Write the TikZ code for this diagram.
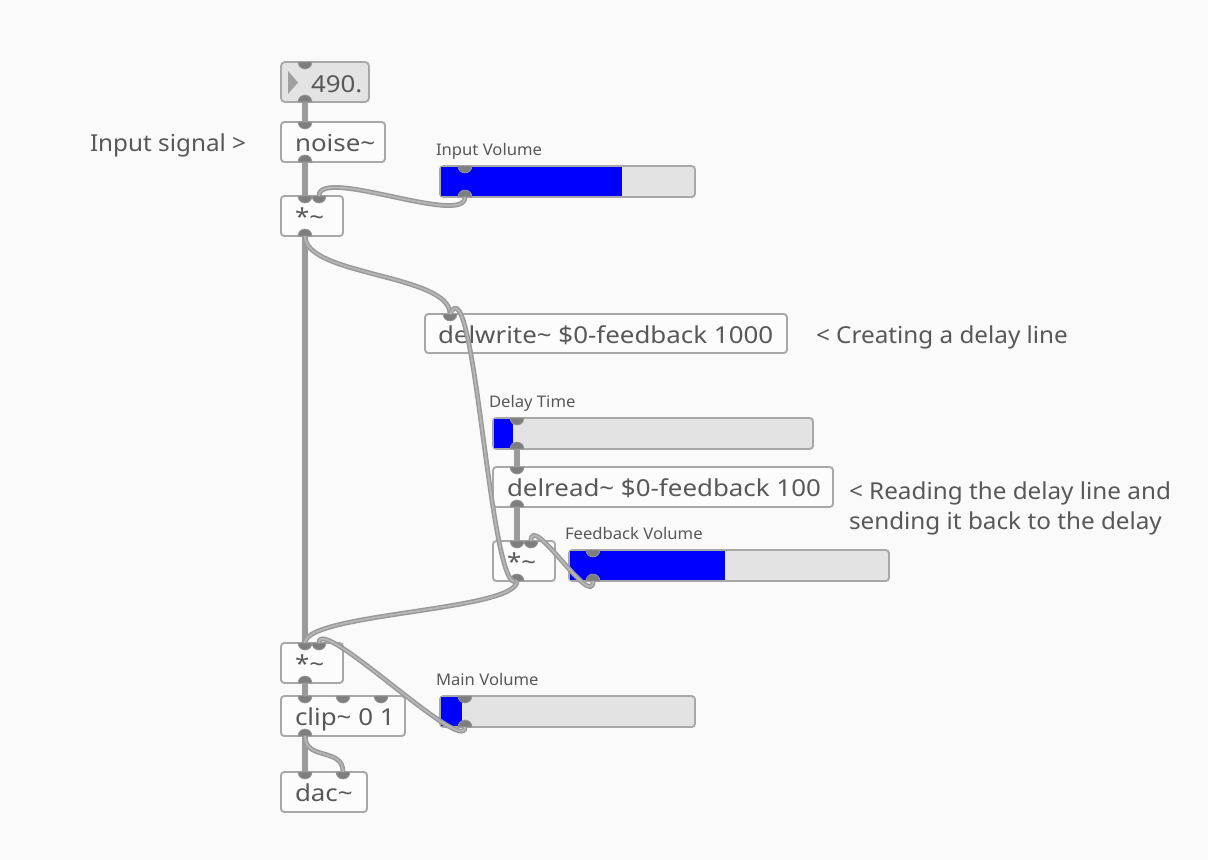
\documentclass[tikz,border=0pt]{standalone}
\usepackage{fontspec}
\setmainfont{Noto Sans}
\newfontfamily\mainf[FakeStretch=1.11]{Noto Sans}
\newfontfamily\cmtf[FakeStretch=1.04]{Noto Sans}
\newfontfamily\lblf[FakeStretch=1.04]{Noto Sans}
\definecolor{bgc}{HTML}{FAFAFA}
\definecolor{boxc}{HTML}{A8A8A8}
\definecolor{boxf}{HTML}{FCFCFC}
\definecolor{nbf}{HTML}{E3E3E3}
\definecolor{slf}{HTML}{E3E3E3}
\definecolor{pdblue}{HTML}{0000FF}
\definecolor{txtc}{HTML}{585858}
\definecolor{portc}{HTML}{7E7E7E}
\definecolor{portr}{HTML}{9A9A9A}
\definecolor{cordo}{HTML}{999999}
\definecolor{cordi}{HTML}{B6B6B6}
\definecolor{cords}{HTML}{9B9B9B}
\definecolor{tric}{HTML}{A0A0A0}
\newcommand\inport[1]{\filldraw[fill=portc,draw=portr,line width=0.5pt] (#1) ++(-7,0) arc[start angle=180,end angle=360,radius=5.25pt] -- cycle;}
\newcommand\outport[1]{\filldraw[fill=portc,draw=portr,line width=0.5pt] (#1) ++(-7,0) arc[start angle=180,end angle=0,radius=5.25pt] -- cycle;}
\begin{document}
\begin{tikzpicture}[x=0.75pt,y=-0.75pt,
  objbox/.style={draw=boxc, fill=boxf, line width=1.4pt, rounded corners=2.5pt, inner sep=0pt, outer sep=0pt, anchor=north west},
  numbox/.style={objbox, fill=nbf, rounded corners=3pt},
  slider/.style={draw=boxc, fill=slf, line width=1.4pt, rounded corners=2.5pt, inner sep=0pt, outer sep=0pt, anchor=north west, minimum width=#1*0.75pt, minimum height=31*0.75pt},
  txt/.style={anchor=base west, inner sep=0pt, outer sep=0pt, text=txtc, font=\mainf\fontsize{17.5}{21}\selectfont},
  cmt/.style={anchor=base west, inner sep=0pt, outer sep=0pt, text=txtc, font=\cmtf\fontsize{17.5}{21}\selectfont},
  lbl/.style={anchor=base west, inner sep=0pt, outer sep=0pt, text=txtc, font=\lblf\fontsize{12}{14}\selectfont},
  cord/.style={draw=cordo, line width=1.1pt, double=cordi, double distance=1.4pt},
  scord/.style={draw=cords, line width=4.2pt}
]
\useasboundingbox (0,0) rectangle (1208,860);
\fill[bgc] (0,0) rectangle (1208,860);

% ---------- object boxes ----------
\node[numbox, minimum width=88*0.75pt, minimum height=40*0.75pt] (nb) at (281,62) {};
\fill[tric] (288,71) -- (298,82.5) -- (288,94) -- cycle;
\node[txt] (nbt) at (311,92) {490.};

\node[objbox, minimum width=104*0.75pt, minimum height=40*0.75pt] (noise) at (281,122) {};
\node[txt] (noiset) at (295,151) {noise\textasciitilde};

\node[objbox, minimum width=62*0.75pt, minimum height=40*0.75pt] (m1) at (281,196) {};
\node[txt] (m1t) at (295,225) {*\textasciitilde};

\node[objbox, minimum width=362*0.75pt, minimum height=39*0.75pt] (dw) at (425,314) {};
\node[txt] (dwt) at (438,343) {delwrite\textasciitilde{} \$0-feedback 1000};

\node[objbox, minimum width=340*0.75pt, minimum height=40*0.75pt] (dr) at (493,467) {};
\node[txt] (drt) at (507,496) {delread\textasciitilde{} \$0-feedback 100};

\node[objbox, minimum width=62*0.75pt, minimum height=40*0.75pt] (m2) at (493,541) {};
\node[txt] (m2t) at (507,570) {*\textasciitilde};

\node[objbox, minimum width=62*0.75pt, minimum height=40*0.75pt] (m3) at (281,643) {};
\node[txt] (m3t) at (295,672) {*\textasciitilde};

\node[objbox, minimum width=124*0.75pt, minimum height=40*0.75pt] (clip) at (281,696) {};
\node[txt] (clipt) at (295,725) {clip\textasciitilde{} 0 1};

\node[objbox, minimum width=86*0.75pt, minimum height=40*0.75pt] (dac) at (281,772) {};
\node[txt] (dact) at (295,801) {dac\textasciitilde};

% ---------- sliders ----------
\node[slider=255] (iv) at (440,166) {};
\fill[pdblue] (441,167) rectangle (622,196);
\node[lbl] (ivl) at (436,155) {Input Volume};

\node[slider=320] (dt) at (493,418) {};
\fill[pdblue] (494,419) rectangle (513,448);
\node[lbl] (dtl) at (489,407) {Delay Time};

\node[slider=320] (fv) at (569,550) {};
\fill[pdblue] (570,551) rectangle (725,580);
\node[lbl] (fvl) at (565,539) {Feedback Volume};

\node[slider=255] (mv) at (440,696) {};
\fill[pdblue] (441,697) rectangle (462,726);
\node[lbl] (mvl) at (436,685) {Main Volume};

% ---------- comments ----------
\node[cmt] (c1) at (90,151) {Input signal >};
\node[cmt] (c2) at (816,343) {< Creating a delay line};
\node[cmt] (c3) at (849,499) {< Reading the delay line and};
\node[cmt] (c4) at (849,529) {sending it back to the delay};

% ---------- ports ----------
\coordinate (nb-i) at (305,62);   \coordinate (nb-o) at (305,102);
\coordinate (noise-i) at (305,122); \coordinate (noise-o) at (305,162);
\coordinate (m1-i0) at (305,196); \coordinate (m1-i1) at (319,196); \coordinate (m1-o) at (305,236);
\coordinate (iv-i) at (465,166); \coordinate (iv-o) at (465,197);
\coordinate (dw-i) at (450,314);
\coordinate (dt-i) at (517,418); \coordinate (dt-o) at (517,449);
\coordinate (dr-i) at (517,467); \coordinate (dr-o) at (517,507);
\coordinate (m2-i0) at (517,541); \coordinate (m2-i1) at (531,541); \coordinate (m2-o) at (517,581);
\coordinate (fv-i) at (593,550); \coordinate (fv-o) at (593,581);
\coordinate (m3-i0) at (305,643); \coordinate (m3-i1) at (319,643); \coordinate (m3-o) at (305,683);
\coordinate (mv-i) at (465,696); \coordinate (mv-o) at (465,727);
\coordinate (clip-i0) at (305,696); \coordinate (clip-i1) at (343,696); \coordinate (clip-i2) at (381,696); \coordinate (clip-o) at (305,736);
\coordinate (dac-i0) at (305,772); \coordinate (dac-i1) at (343,772);

\inport{nb-i} \outport{nb-o}
\inport{noise-i} \outport{noise-o}
\inport{m1-i0} \inport{m1-i1} \outport{m1-o}
\inport{iv-i} \outport{iv-o}
\inport{dw-i}
\inport{dt-i} \outport{dt-o}
\inport{dr-i} \outport{dr-o}
\inport{m2-i0} \inport{m2-i1} \outport{m2-o}
\inport{fv-i} \outport{fv-o}
\inport{m3-i0} \inport{m3-i1} \outport{m3-o}
\inport{mv-i} \outport{mv-o}
\inport{clip-i0} \inport{clip-i1} \inport{clip-i2} \outport{clip-o}
\inport{dac-i0} \inport{dac-i1}

% ---------- cords ----------
\draw[scord] (nb-o) -- (noise-i);
\draw[scord] (noise-o) -- (m1-i0);
\draw[scord] (m1-o) -- (m3-i0);
\draw[scord] (dt-o) -- (dr-i);
\draw[scord] (dr-o) -- (m2-i0);
\draw[scord] (m3-o) -- (clip-i0);
\draw[scord] (clip-o) -- (dac-i0);
\draw[cord] (iv-o) .. controls +(0,30) and +(0,-30) .. (m1-i1);
\draw[cord] (m1-o) .. controls +(0,40) and +(0,-40) .. (dw-i);
\draw[cord] (dw-i) .. controls +(25,-54) and +(-27,19) .. (m2-o);
\draw[cord] (fv-o) .. controls +(0,30) and +(0,-30) .. (m2-i1);
\draw[cord] (m2-o) .. controls +(0,30) and +(0,-30) .. (m3-i0);
\draw[cord] (mv-o) .. controls +(0,30) and +(0,-30) .. (m3-i1);
\draw[cord] (clip-o) .. controls +(0,25) and +(0,-25) .. (dac-i1);
\end{tikzpicture}
\end{document}
